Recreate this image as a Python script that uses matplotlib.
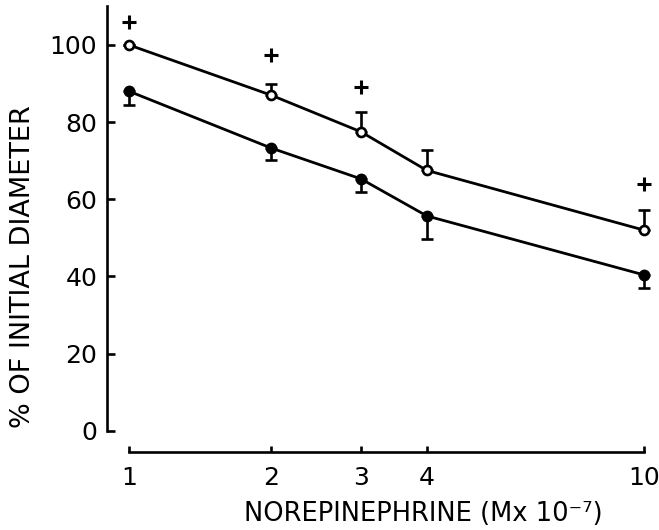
import numpy as np
import matplotlib
matplotlib.use("Agg")
import matplotlib.pyplot as plt

# Data
conc = [1, 2, 3, 4, 10]
open_vals = [100, 87, 77.5, 67.5, 52]
open_err_up = [0, 3, 5, 5.4, 5.2]
filled_vals = [88, 73.3, 65.3, 55.7, 40.4]
filled_err_down = [3.5, 3, 3.4, 6, 3.4]
plus_x = [1, 2, 3, 10]
plus_y = [106, 97.4, 89, 64]
xtick_vals = [1, 2, 3, 4, 10]
xtick_labels = ["1", "2", "3", "4", "10"]
ytick_vals = [0, 20, 40, 60, 80, 100]

C = 0.3
def fwd(x):
    return np.log10(np.asarray(x, dtype=float) + C)
def inv(t):
    return 10 ** np.asarray(t, dtype=float) - C

plt.rcParams['font.family'] = ['DejaVu Sans']
fig = plt.figure(figsize=(6.59, 5.30), dpi=100)
ax = fig.add_axes([0.1624, 0.147, 0.832, 0.841])
ax.set_xscale('function', functions=(fwd, inv))

lw = 2.0
ax.plot(conc, open_vals, color='black', lw=lw, marker='o', ms=6.5,
        mfc='white', mec='black', mew=1.9, zorder=3)
ax.errorbar(conc, open_vals, yerr=[np.zeros(len(conc)), open_err_up],
            fmt='none', ecolor='black', elinewidth=1.9, capsize=4.5,
            capthick=1.9, zorder=2)
ax.plot(conc, filled_vals, color='black', lw=lw, marker='o', ms=7.5,
        mfc='black', mec='black', zorder=3)
ax.errorbar(conc, filled_vals, yerr=[filled_err_down, np.zeros(len(conc))],
            fmt='none', ecolor='black', elinewidth=1.9, capsize=4.5,
            capthick=1.9, zorder=2)
ax.scatter(plus_x, plus_y, marker='+', s=90, color='black', linewidths=2.2, zorder=3)

ax.set_xlim(0.89, 10.47)
ax.set_ylim(-5.5, 110)
for s in ['top', 'right']:
    ax.spines[s].set_visible(False)
ax.spines['left'].set_bounds(0, 110)
ax.spines['bottom'].set_bounds(1, 10)
ax.spines['left'].set_linewidth(1.9)
ax.spines['bottom'].set_linewidth(1.9)

ax.set_xticks(xtick_vals)
ax.set_xticklabels(xtick_labels)
ax.xaxis.set_minor_locator(matplotlib.ticker.NullLocator())
ax.set_yticks(ytick_vals)
ax.tick_params(axis='y', direction='in', length=5.5, width=1.9, pad=7, labelsize=18)
ax.tick_params(axis='x', direction='in', length=4, width=1.9, pad=10, labelsize=18)

ax.set_ylabel('% OF INITIAL DIAMETER', fontsize=19.5)
ax.yaxis.set_label_coords(-0.13, 0.417)
ax.set_xlabel('NOREPINEPHRINE (Mx 10⁻⁷)', fontsize=18.5)
ax.xaxis.set_label_coords(0.577, -0.11)

fig.savefig('out.png', dpi=100)
